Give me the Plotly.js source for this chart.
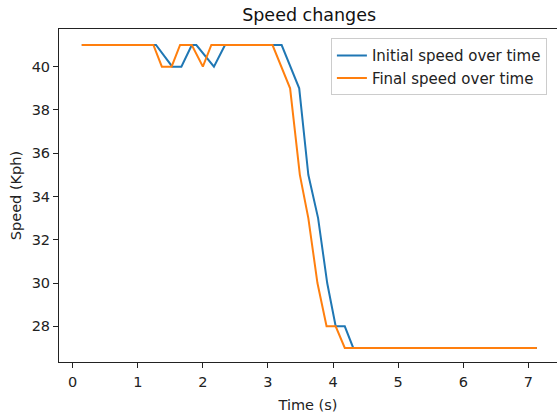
<!DOCTYPE html>
<html>
<head>
<meta charset="utf-8">
<script src="https://cdn.plot.ly/plotly-3.0.1.min.js"></script>
<style>
html, body { margin: 0; padding: 0; overflow: hidden; background: #fff; }
#chart { width: 557px; height: 414px; }
</style>
</head>
<body>
<div id="chart"></div>
<script>
// Initial speed over time
const initialTime  = [0.14, 1.28, 1.53, 1.67, 1.83, 1.90, 2.17, 2.34, 3.21, 3.48, 3.62, 3.77, 3.91, 4.04, 4.18, 4.31, 7.13];
const initialSpeed = [41,   41,   40,   40,   41,   41,   40,   41,   41,   39,   35,   33,   30,   28,   28,   27,   27];
// Final speed over time
const finalTime  = [0.14, 1.24, 1.37, 1.52, 1.65, 1.83, 2.00, 2.13, 3.07, 3.34, 3.49, 3.62, 3.76, 3.90, 4.04, 4.18, 7.13];
const finalSpeed = [41,   41,   40,   40,   41,   41,   40,   41,   41,   39,   35,   33,   30,   28,   28,   27,   27];

const xTicks = [0, 1, 2, 3, 4, 5, 6, 7];
const yTicks = [28, 30, 32, 34, 36, 38, 40];

const font = 'DejaVu Sans, Verdana, sans-serif';

const traces = [
  { x: initialTime, y: initialSpeed, type: 'scatter', mode: 'lines',
    name: 'Initial speed over time', line: { color: '#1f77b4', width: 2 } },
  { x: finalTime, y: finalSpeed, type: 'scatter', mode: 'lines',
    name: 'Final speed over time', line: { color: '#ff7f0e', width: 2 } }
];

const layout = {
  width: 557, height: 414,
  margin: { l: 59, r: 0, t: 29, b: 52 },
  paper_bgcolor: '#fff', plot_bgcolor: '#fff',
  font: { family: font, size: 14.5, color: '#222' },
  title: { text: 'Speed changes', font: { family: font, size: 17.5, color: '#111' },
           xref: 'container', x: 0.555, xanchor: 'center',
           yref: 'container', y: 1 - 15 / 414, yanchor: 'middle' },
  xaxis: {
    range: [-0.21, 7.44], tickvals: xTicks, ticktext: xTicks.map(String),
    showgrid: false, zeroline: false, showline: true, linecolor: '#222', linewidth: 1,
    mirror: true, ticks: 'outside', ticklen: 5, tickcolor: '#222', tickwidth: 1,
    ticklabelstandoff: 2, tickfont: { family: font, size: 14.5, color: '#222' },
    title: { text: 'Time (s)', font: { family: font, size: 14.5, color: '#222' }, standoff: 10 }
  },
  yaxis: {
    range: [26.35, 41.74], tickvals: yTicks, ticktext: yTicks.map(String),
    showgrid: false, zeroline: false, showline: true, linecolor: '#222', linewidth: 1,
    mirror: false, ticks: 'outside', ticklen: 5, tickcolor: '#222', tickwidth: 1,
    tickfont: { family: font, size: 14.5, color: '#222' },
    title: { text: 'Speed (Kph)', font: { family: font, size: 14.5, color: '#222' }, standoff: 6 }
  },
  legend: {
    x: 0.546, y: 0.972, xanchor: 'left', yanchor: 'top',
    bgcolor: 'rgba(255,255,255,0.8)', bordercolor: '#ccc', borderwidth: 1,
    font: { family: font, size: 15, color: '#222' }, tracegroupgap: 0
  },
  showlegend: true
};

Plotly.newPlot('chart', traces, layout, { displayModeBar: false, staticPlot: true });
</script>
</body>
</html>
